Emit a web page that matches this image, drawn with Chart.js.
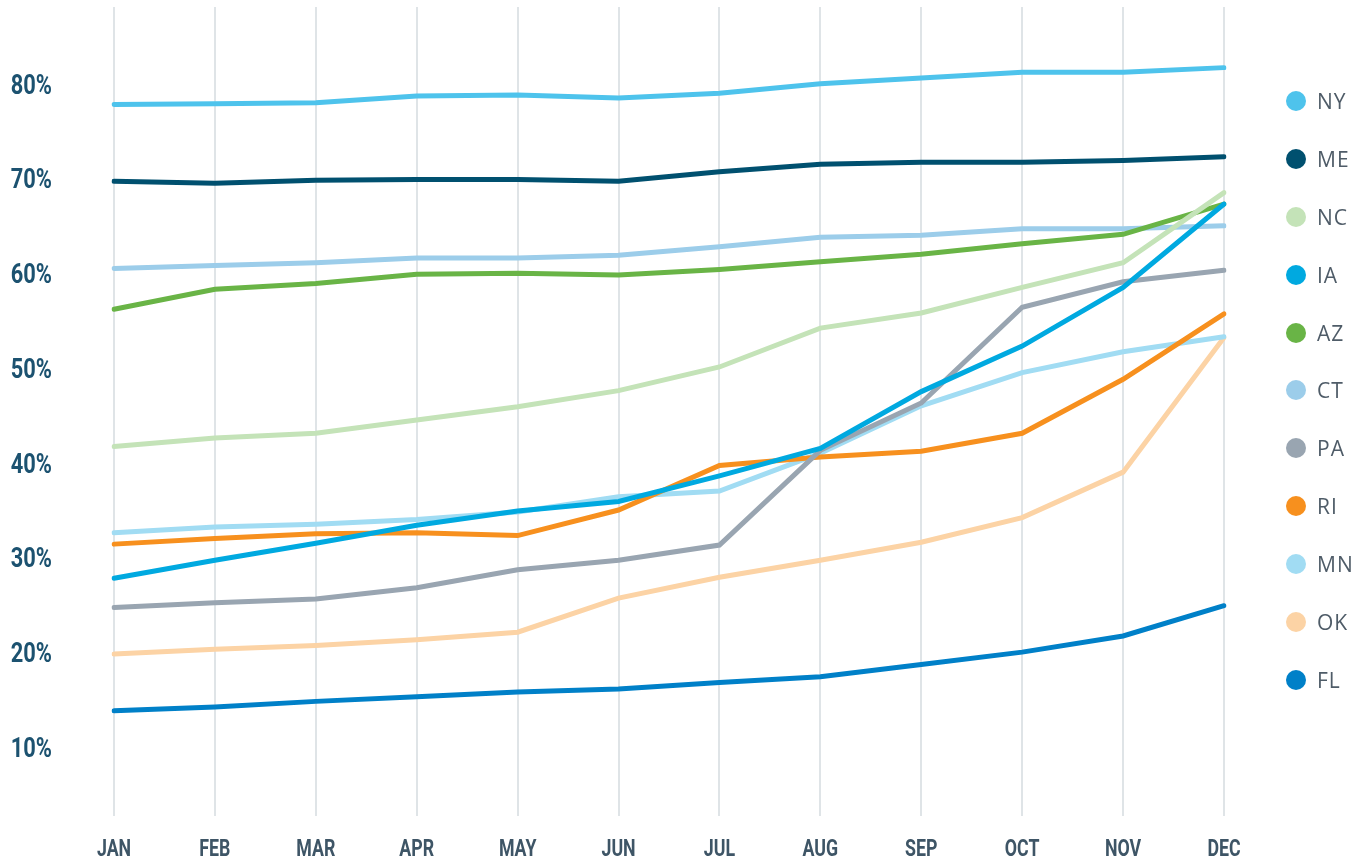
<!DOCTYPE html>
<html>
<head>
<meta charset="utf-8">
<script src="https://cdn.jsdelivr.net/npm/chart.js@4.4.1/dist/chart.umd.min.js"></script>
<style>
  html, body { margin: 0; padding: 0; background: #fff; }
  #wrap { position: relative; width: 1363px; height: 863px; }
  canvas { display: block; }
  #leyenda { position: absolute; left: 1286px; top: 91px; font-family: "Open Sans", sans-serif; font-size: 21px; color: #4f5c68; }
  .item { height: 57.9px; display: flex; align-items: flex-start; letter-spacing: 1px; }
  .punto { width: 20px; height: 20px; border-radius: 50%; margin-right: 11px; }
  .item span { line-height: 20px; }
</style>
</head>
<body>
<div id="wrap">
  <canvas id="grafico" width="1363" height="863"></canvas>
  <div id="leyenda"></div>
</div>
<script>
// DATOS
const meses = ["JAN", "FEB", "MAR", "APR", "MAY", "JUN", "JUL", "AUG", "SEP", "OCT", "NOV", "DEC"];
const ticksY = [10, 20, 30, 40, 50, 60, 70, 80];

const estados = ["NY", "ME", "NC", "IA", "AZ", "CT", "PA", "RI", "MN", "OK", "FL"];

const NY = [78.0, 78.1, 78.2, 78.9, 79.0, 78.7, 79.2, 80.2, 80.8, 81.4, 81.4, 81.9];
const ME = [69.9, 69.7, 70.0, 70.1, 70.1, 69.9, 70.9, 71.7, 71.9, 71.9, 72.1, 72.5];
const NC = [41.9, 42.8, 43.3, 44.7, 46.1, 47.8, 50.3, 54.4, 56.0, 58.7, 61.3, 68.7];
const IA = [28.0, 29.9, 31.7, 33.6, 35.1, 36.1, 38.8, 41.7, 47.7, 52.5, 58.7, 67.5];
const AZ = [56.4, 58.5, 59.1, 60.1, 60.2, 60.0, 60.6, 61.4, 62.2, 63.3, 64.3, 67.5];
const CT = [60.7, 61.0, 61.3, 61.8, 61.8, 62.1, 63.0, 64.0, 64.2, 64.9, 64.9, 65.2];
const PA = [24.9, 25.4, 25.8, 27.0, 28.9, 29.9, 31.5, 41.5, 46.5, 56.6, 59.3, 60.5];
const RI = [31.6, 32.2, 32.7, 32.8, 32.5, 35.2, 39.9, 40.8, 41.4, 43.3, 49.0, 55.9];
const MN = [32.8, 33.4, 33.7, 34.2, 35.0, 36.6, 37.2, 41.2, 46.2, 49.7, 51.9, 53.5];
const OK = [20.0, 20.5, 20.9, 21.5, 22.3, 25.9, 28.1, 29.9, 31.8, 34.4, 39.2, 53.4];
const FL = [14.0, 14.4, 15.0, 15.5, 16.0, 16.3, 17.0, 17.6, 18.9, 20.2, 21.9, 25.1];

const valores = [NY, ME, NC, IA, AZ, CT, PA, RI, MN, OK, FL];
const colores = ["#4ec3ec", "#00506f", "#c4e3b8", "#00a9e0", "#69b446", "#9ccdea", "#99a5b1", "#f7901e", "#a1dcf3", "#fcd3a5", "#0080c8"];

// LEYENDA
const leyenda = document.getElementById("leyenda");
estados.forEach((e, i) => {
  const div = document.createElement("div");
  div.className = "item";
  div.innerHTML = '<div class="punto" style="background:' + colores[i] + '"></div><span>' + e + '</span>';
  leyenda.appendChild(div);
});

// ETIQUETAS ANGOSTAS (fuente condensada)
function textoAngosto(ctx, txt, x, y, align, escala) {
  ctx.save();
  ctx.translate(x, y);
  ctx.scale(escala, 1);
  ctx.textAlign = align;
  ctx.textBaseline = "middle";
  ctx.fillText(txt, 0, 0);
  ctx.restore();
}

const etiquetas = {
  id: "etiquetas",
  afterDraw(chart) {
    const ctx = chart.ctx;
    const x = chart.scales.x;
    const y = chart.scales.y;

    ctx.save();
    ctx.font = "bold 28px Roboto";
    ctx.fillStyle = "#1c5270";
    ticksY.forEach(v => {
      textoAngosto(ctx, v + "%", 52, y.getPixelForValue(v) + 1, "right", 0.78);
    });

    ctx.font = "bold 24px Roboto";
    ctx.fillStyle = "#3e5566";
    meses.forEach((m, i) => {
      textoAngosto(ctx, m, x.getPixelForValue(i), 850, "center", 0.74);
    });
    ctx.restore();
  }
};

// GRÁFICO
const ctx = document.getElementById("grafico");

new Chart(ctx, {
  type: "line",
  data: {
    labels: meses,
    datasets: estados.map((e, i) => ({
      label: e,
      data: valores[i],
      borderColor: colores[i],
      backgroundColor: colores[i],
      borderWidth: 5,
      borderCapStyle: "round",
      pointRadius: 0,
      tension: 0,
      fill: false
    }))
  },
  options: {
    responsive: false,
    animation: false,
    layout: { padding: { top: 7, right: 139, left: 0, bottom: 0 } },
    plugins: {
      legend: { display: false },
      tooltip: { enabled: false }
    },
    scales: {
      x: {
        offset: false,
        border: { display: false },
        grid: { color: "#dfe4e7", lineWidth: 2, drawTicks: false },
        ticks: { display: false },
        afterFit: s => { s.height = 47; }
      },
      y: {
        min: 2.9,
        max: 88.3,
        border: { display: false },
        grid: { display: false },
        ticks: { display: false },
        afterFit: s => { s.width = 114; }
      }
    }
  },
  plugins: [etiquetas]
});
</script>
</body>
</html>
